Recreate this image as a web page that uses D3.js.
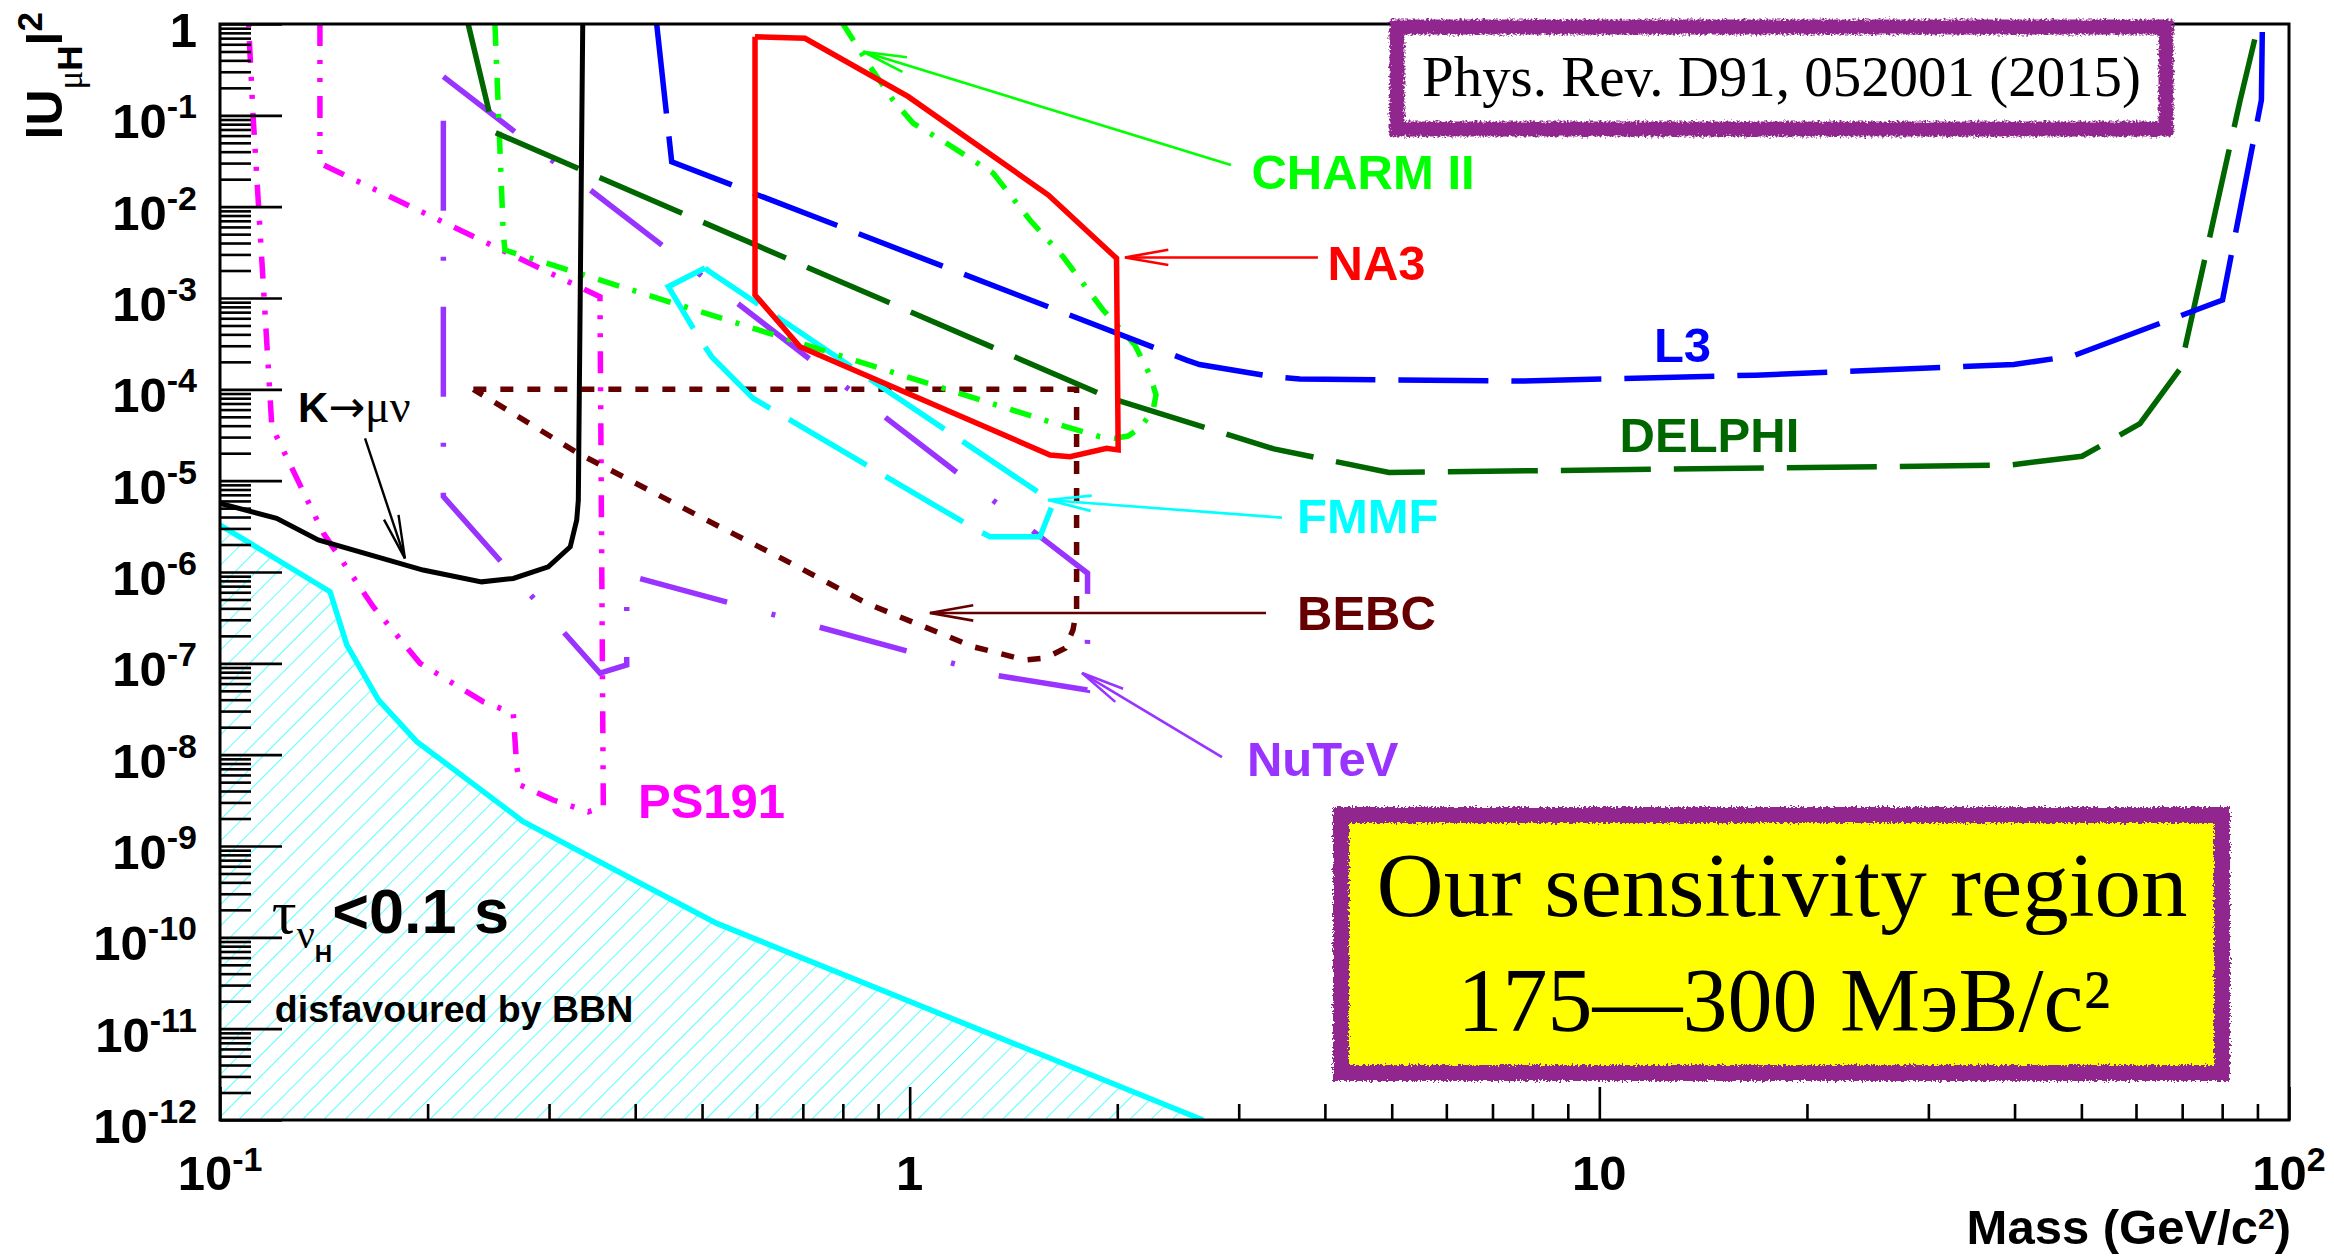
<!DOCTYPE html>
<html>
<head>
<meta charset="utf-8">
<script src="https://cdn.jsdelivr.net/npm/d3@7"></script>
<style>
  body { margin: 0; background: #fff; }
  svg { display: block; }
</style>
</head>
<body>
<svg id="chart" width="2334" height="1256"></svg>
<script>
// Heavy neutral lepton searches: limits on |U_μH|² versus mass (GeV/c²)

const massDomain = [0.1, 100];
const mixDomain = [1e-12, 1];

// tick values and labels
const massMajorTicks = [0.1, 1, 10, 100];
const massMinorTicks = [0.2, 0.3, 0.4, 0.5, 0.6, 0.7, 0.8, 0.9,
                        2, 3, 4, 5, 6, 7, 8, 9,
                        20, 30, 40, 50, 60, 70, 80, 90];
const massTickBase = ["10", "1", "10", "10"];
const massTickExp  = ["-1", "", "", "2"];
const mixMajorTicks = [1, 1e-1, 1e-2, 1e-3, 1e-4, 1e-5, 1e-6, 1e-7, 1e-8, 1e-9, 1e-10, 1e-11, 1e-12];
const mixTickBase = ["1", "10", "10", "10", "10", "10", "10", "10", "10", "10", "10", "10", "10"];
const mixTickExp  = ["", "-1", "-2", "-3", "-4", "-5", "-6", "-7", "-8", "-9", "-10", "-11", "-12"];

// curves: [mass, |U|²]
const kToMuNu = [[0.1, 5.65e-6], [0.1208, 3.87e-6], [0.1388, 2.24e-6], [0.197, 1.05e-6],
  [0.2395, 7.8e-7], [0.2662, 8.5e-7], [0.2992, 1.14e-6], [0.322, 1.89e-6],
  [0.329, 3.7e-6], [0.3308, 6.1e-6], [0.3357, 1]];

const bbnLimit = [[0.1, 3.27e-6], [0.1444, 6.08e-7], [0.1527, 1.59e-7], [0.1697, 3.97e-8],
  [0.1929, 1.39e-8], [0.2753, 1.85e-9], [0.5253, 1.42e-10], [2.662, 1e-12]];

const ps191 = [[0.1396, 1], [0.1396, 0.0298], [0.3556, 1.03e-3], [0.3596, 2.69e-9],
  [0.342, 2.37e-9], [0.3042, 3.19e-9], [0.2723, 4.65e-9], [0.2693, 7.38e-9],
  [0.2662, 2.84e-8], [0.2408, 3.8e-8], [0.195, 1.0e-7], [0.1668, 4.17e-7],
  [0.1412, 2.67e-6], [0.1189, 3.9e-5], [0.1156, 1.33e-3], [0.1117, 0.0966], [0.11, 1]];

const nutev = [[0.2108, 0.265], [1.811, 9.7e-7], [1.81, 5.1e-8], [1.236, 8.1e-8],
  [1.203, 9.2e-8], [0.3888, 9.3e-7], [0.3888, 9.6e-8], [0.3556, 7.8e-8],
  [0.2108, 6.7e-6], [0.2108, 0.265]];

const bebc = [[0.233, 1e-4], [1.746, 1e-4], [1.746, 3.84e-7], [1.725, 2.32e-7],
  [1.68, 1.46e-7], [1.571, 1.14e-7], [1.47, 1.09e-7], [1.236, 1.52e-7],
  [0.8665, 4.54e-7], [0.6594, 1.35e-6], [0.4966, 4.03e-6], [0.3308, 1.99e-5], [0.233, 1e-4]];

const fmmf = [[0.505, 2.13e-3], [0.4467, 1.33e-3], [0.4937, 3.77e-4], [0.5162, 2.28e-4],
  [0.593, 7.97e-5], [1.251, 2.88e-6], [1.308, 2.43e-6], [1.545, 2.43e-6],
  [1.607, 5.19e-6], [1.545, 7.27e-6], [0.5105, 1.99e-3], [0.505, 2.13e-3]];

const charm2 = [[0.2504, 1], [0.2575, 5.1e-3], [0.2589, 3.35e-3], [1.652, 4.07e-5],
  [1.888, 3.03e-5], [1.985, 2.91e-5], [2.073, 3.08e-5], [2.158, 3.77e-5],
  [2.254, 5.94e-5], [2.276, 8.67e-5], [2.231, 1.43e-4], [2.121, 3.06e-4],
  [1.907, 7.39e-4], [1.669, 2.83e-3], [1.494, 7.14e-3], [1.322, 0.0232],
  [1.131, 0.0494], [1.012, 0.0818], [0.946, 0.147], [0.876, 0.341], [0.8005, 1]];

const na3 = [[0.5967, 0.726], [0.705, 0.697], [0.9954, 0.16], [1.589, 0.0134],
  [1.995, 2.72e-3], [2.006, 2.17e-5], [1.93, 2.26e-5], [1.708, 1.83e-5],
  [1.598, 1.91e-5], [0.6934, 2.93e-4], [0.5967, 1.08e-3], [0.5967, 0.726]];

const l3 = [[0.4297, 1], [0.4518, 0.031], [2.521, 2.09e-4], [2.632, 1.87e-4],
  [3.374, 1.37e-4], [3.68, 1.30e-4], [7.67, 1.23e-4], [16.84, 1.43e-4],
  [39.9, 1.87e-4], [48.6, 2.32e-4], [80.1, 9.5e-4], [91.2, 0.147], [91.5, 1]];

const delphi = [[0.229, 1], [0.2496, 0.0657], [1.952, 8.04e-5], [3.374, 2.23e-5],
  [4.954, 1.23e-5], [39.26, 1.48e-5], [50.1, 1.85e-5], [60.8, 4.2e-5],
  [69.6, 1.7e-4], [84.9, 0.1435], [90.3, 1]];

// ---------------------------------------------------------------
const svg = d3.select("#chart");
const frame = { left: 220, right: 2289, top: 24, bottom: 1120 };

const x = d3.scaleLog().domain(massDomain).range([frame.left, frame.right]);
const y = d3.scaleLog().domain(mixDomain).range([frame.bottom, frame.top]);
const line = d3.line().x(d => x(d[0])).y(d => y(d[1]));

const SANS = "'Liberation Sans', Arial, Helvetica, sans-serif";
const SERIF = "'Liberation Serif', 'Times New Roman', serif";

const defs = svg.append("defs");
defs.append("clipPath").attr("id", "plotClip")
  .append("rect")
  .attr("x", frame.left).attr("y", frame.top)
  .attr("width", frame.right - frame.left).attr("height", frame.bottom - frame.top);

const hatch = defs.append("pattern").attr("id", "hatch")
  .attr("patternUnits", "userSpaceOnUse")
  .attr("width", 15).attr("height", 15)
  .attr("patternTransform", "rotate(45)");
hatch.append("line").attr("x1", 0).attr("y1", 0).attr("x2", 0).attr("y2", 15)
  .attr("stroke", "#00ffff").attr("stroke-width", 1.3);

const rough = defs.append("filter").attr("id", "rough")
  .attr("x", "-5%").attr("y", "-20%").attr("width", "110%").attr("height", "140%");
rough.append("feTurbulence").attr("type", "fractalNoise")
  .attr("baseFrequency", 0.45).attr("numOctaves", 2).attr("seed", 7).attr("result", "noise");
rough.append("feDisplacementMap").attr("in", "SourceGraphic").attr("in2", "noise")
  .attr("scale", 7).attr("xChannelSelector", "R").attr("yChannelSelector", "G");

// ---------------------------------------------------------------
// plot contents
const g = svg.append("g").attr("clip-path", "url(#plotClip)");

// region disfavoured by BBN
const bbnArea = d3.area().x(d => x(d[0])).y0(frame.bottom).y1(d => y(d[1]));
g.append("path").datum(bbnLimit).attr("d", bbnArea).attr("fill", "url(#hatch)");

const series = [
  { data: bbnLimit, color: "#00ffff", width: 5.5, dash: null },
  { data: ps191,    color: "#ff00ff", width: 5.5, dash: "22,14,4,14,4,14" },
  { data: nutev,    color: "#9933ff", width: 5.5, dash: "90,46,4,46" },
  { data: bebc,     color: "#660000", width: 5.5, dash: "13,14" },
  { data: fmmf,     color: "#00ffff", width: 5.5, dash: "90,22" },
  { data: charm2,   color: "#00ff00", width: 5.5, dash: "22,14,4,14" },
  { data: delphi,   color: "#006600", width: 5.5, dash: "90,23" },
  { data: l3,       color: "#0000ff", width: 5.5, dash: "90,23" },
  { data: na3,      color: "#ff0000", width: 5.5, dash: null },
  { data: kToMuNu,  color: "#000000", width: 5, dash: null }
];

g.selectAll("path.curve").data(series).join("path")
  .attr("class", "curve")
  .attr("d", s => line(s.data))
  .attr("fill", "none")
  .attr("stroke", s => s.color)
  .attr("stroke-width", s => s.width)
  .attr("stroke-dasharray", s => s.dash)
  .attr("stroke-linejoin", "miter");

// ---------------------------------------------------------------
// axes (ticks drawn inward, ROOT style)
const axisG = svg.append("g");
const xMajor = d3.axisTop(x).tickValues(massMajorTicks).tickSize(33).tickSizeOuter(0).tickFormat("");
const xMinor = d3.axisTop(x).tickValues(massMinorTicks).tickSize(16).tickSizeOuter(0).tickFormat("");
const mixMinorTicks = mixMajorTicks.slice(1).flatMap(p => [2, 3, 4, 5, 6, 7, 8, 9].map(k => k * p));
const yMajor = d3.axisRight(y).tickValues(mixMajorTicks).tickSize(62).tickSizeOuter(0).tickFormat("");
const yMinor = d3.axisRight(y).tickValues(mixMinorTicks).tickSize(31).tickSizeOuter(0).tickFormat("");

[[xMajor, `translate(0,${frame.bottom})`], [xMinor, `translate(0,${frame.bottom})`],
 [yMajor, `translate(${frame.left},0)`], [yMinor, `translate(${frame.left},0)`]].forEach(([ax, tr]) => {
  const a = axisG.append("g").attr("transform", tr).call(ax);
  a.select(".domain").remove();
  a.selectAll(".tick line").attr("stroke", "#000").attr("stroke-width", 2.6);
});

// frame
svg.append("rect")
  .attr("x", frame.left).attr("y", frame.top)
  .attr("width", frame.right - frame.left).attr("height", frame.bottom - frame.top)
  .attr("fill", "none").attr("stroke", "#000").attr("stroke-width", 3);

// tick labels
massMajorTicks.forEach((v, i) => {
  const t = svg.append("text")
    .attr("x", x(v)).attr("y", 1190)
    .attr("text-anchor", "middle")
    .attr("font-family", SANS).attr("font-weight", "bold").attr("font-size", 49);
  t.append("tspan").text(massTickBase[i]);
  if (massTickExp[i]) t.append("tspan").attr("dy", -19).attr("font-size", 34).text(massTickExp[i]);
});
mixMajorTicks.forEach((v, i) => {
  const t = svg.append("text")
    .attr("x", 197).attr("y", y(v) + 23)
    .attr("text-anchor", "end")
    .attr("font-family", SANS).attr("font-weight", "bold").attr("font-size", 49);
  t.append("tspan").text(mixTickBase[i]);
  if (mixTickExp[i]) t.append("tspan").attr("dy", -20).attr("font-size", 34).text(mixTickExp[i]);
});

// axis titles
const xt = svg.append("text")
  .attr("x", frame.right + 2).attr("y", 1244)
  .attr("text-anchor", "end")
  .attr("font-family", SANS).attr("font-weight", "bold").attr("font-size", 49);
xt.append("tspan").text("Mass (GeV/c");
xt.append("tspan").attr("dy", -15).attr("font-size", 30).text("2");
xt.append("tspan").attr("dy", 15).text(")");

const yt = svg.append("text")
  .attr("transform", "translate(62,12) rotate(-90)")
  .attr("text-anchor", "end")
  .attr("font-family", SANS).attr("font-weight", "bold").attr("font-size", 50);
yt.append("tspan").text("lU");
yt.append("tspan").attr("dy", 20).attr("font-size", 35).attr("font-family", SERIF).attr("font-weight", "normal").text("μ");
yt.append("tspan").attr("font-size", 35).text("H");
yt.append("tspan").attr("dy", -20).text("l");
yt.append("tspan").attr("dy", -20).attr("font-size", 35).text("2");

// ---------------------------------------------------------------
// experiment labels and pointers
function label(text, pos, color, size = 49) {
  svg.append("text")
    .attr("x", x(pos[0])).attr("y", y(pos[1]))
    .attr("font-family", SANS).attr("font-weight", "bold").attr("font-size", size)
    .attr("fill", color).text(text);
}
function arrow(from, to, color, width = 2.6) {
  const x1 = x(from[0]), y1 = y(from[1]), x2 = x(to[0]), y2 = y(to[1]);
  svg.append("line").attr("x1", x1).attr("y1", y1).attr("x2", x2).attr("y2", y2)
    .attr("stroke", color).attr("stroke-width", width);
  const ang = Math.atan2(y1 - y2, x1 - x2), L = 44, a = 10 * Math.PI / 180;
  const p1 = [x2 + L * Math.cos(ang + a), y2 + L * Math.sin(ang + a)];
  const p2 = [x2 + L * Math.cos(ang - a), y2 + L * Math.sin(ang - a)];
  svg.append("path").attr("d", `M${p1}L${x2},${y2}L${p2}`)
    .attr("fill", "none").attr("stroke", color).attr("stroke-width", width);
}

label("CHARM II", [3.13, 0.0156], "#00ff00");
arrow([2.923, 0.02858], [0.8565, 0.497], "#00ff00");
label("NA3", [4.036, 1.574e-3], "#ff0000");
arrow([3.908, 2.78e-3], [2.052, 2.78e-3], "#ff0000");
label("L3", [12.0, 1.99e-4], "#0000ff");
label("DELPHI", [10.7, 2.06e-5], "#006600");
label("FMMF", [3.645, 2.67e-6], "#00ffff");
arrow([3.466, 3.94e-6], [1.587, 6.14e-6], "#00ffff");
label("BEBC", [3.645, 2.32e-7], "#660000");
arrow([3.286, 3.56e-7], [1.07, 3.56e-7], "#660000");
label("NuTeV", [3.083, 5.84e-9], "#9933ff");
arrow([2.837, 9.42e-9], [1.778, 7.83e-8], "#9933ff");
label("PS191", [0.4037, 2.02e-9], "#ff00ff");

// K -> mu nu
const km = svg.append("text")
  .attr("x", x(0.1297)).attr("y", y(4.42e-5));
km.append("tspan").attr("font-family", SANS).attr("font-weight", "bold").attr("font-size", 42).text("K");
km.append("tspan").attr("font-family", "'DejaVu Sans', sans-serif").attr("font-size", 44).text("→");
km.append("tspan").attr("font-family", SERIF).attr("font-size", 46).text("μν");
arrow([0.1623, 2.91e-5], [0.1854, 1.41e-6], "#000", 2.4);

// lifetime constraint
const tau = svg.append("text")
  .attr("x", x(0.1189)).attr("y", y(1.11e-10));
tau.append("tspan").attr("font-family", SERIF).attr("font-size", 62).text("τ");
tau.append("tspan").attr("dy", 15).attr("font-family", SERIF).attr("font-size", 40).text("ν");
tau.append("tspan").attr("dy", 14).attr("font-family", SANS).attr("font-weight", "bold").attr("font-size", 24).text("H");
tau.append("tspan").attr("dy", -29).attr("font-family", SANS).attr("font-weight", "bold").attr("font-size", 63).text("<0.1 s");

svg.append("text")
  .attr("x", x(0.1201)).attr("y", y(1.18e-11))
  .attr("font-family", SANS).attr("font-weight", "bold").attr("font-size", 37.5)
  .text("disfavoured by BBN");

// ---------------------------------------------------------------
// reference box
svg.append("rect").attr("x", 1397).attr("y", 27).attr("width", 769).attr("height", 102)
  .attr("fill", "#fff");
svg.append("rect").attr("x", 1397).attr("y", 27).attr("width", 769).attr("height", 102)
  .attr("fill", "none").attr("stroke", "#92278f").attr("stroke-width", 15)
  .attr("filter", "url(#rough)");
svg.append("text")
  .attr("x", 1781.5).attr("y", 96)
  .attr("text-anchor", "middle")
  .attr("font-family", SERIF).attr("font-size", 56)
  .attr("textLength", 719).attr("lengthAdjust", "spacingAndGlyphs")
  .text("Phys. Rev. D91, 052001 (2015)");

// sensitivity box
svg.append("rect").attr("x", 1341).attr("y", 815).attr("width", 881).attr("height", 258)
  .attr("fill", "#ffff00");
svg.append("rect").attr("x", 1341).attr("y", 815).attr("width", 881).attr("height", 258)
  .attr("fill", "none").attr("stroke", "#92278f").attr("stroke-width", 16)
  .attr("filter", "url(#rough)");
svg.append("text")
  .attr("x", 1782).attr("y", 916)
  .attr("text-anchor", "middle")
  .attr("font-family", SERIF).attr("font-size", 90)
  .attr("textLength", 811).attr("lengthAdjust", "spacingAndGlyphs")
  .text("Our sensitivity region");
svg.append("text")
  .attr("x", 1784).attr("y", 1031)
  .attr("text-anchor", "middle")
  .attr("font-family", SERIF).attr("font-size", 90)
  .attr("textLength", 653).attr("lengthAdjust", "spacingAndGlyphs")
  .text("175—300 МэВ/c²");
</script>
</body>
</html>
